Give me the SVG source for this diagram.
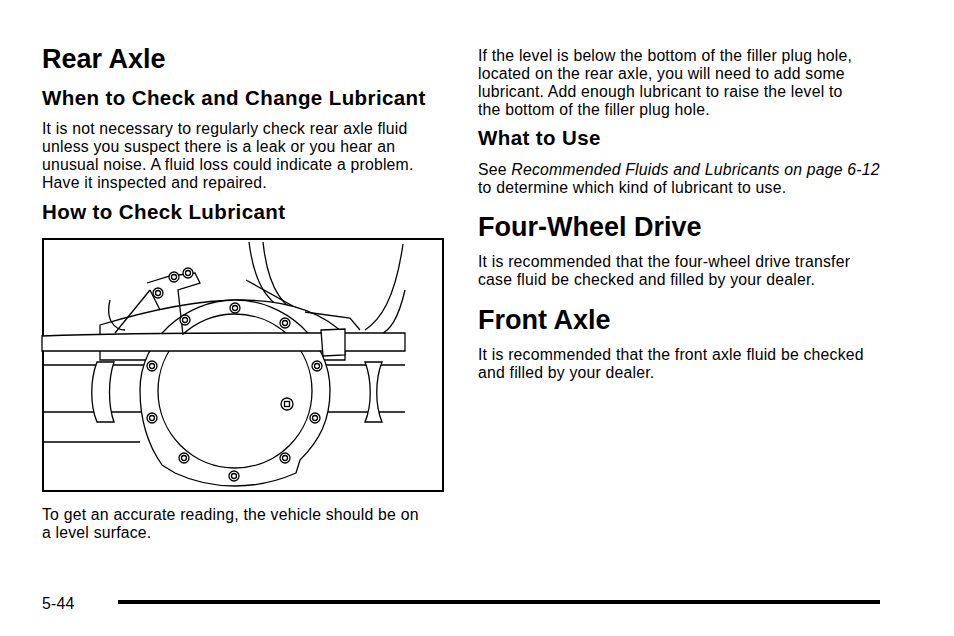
<svg xmlns="http://www.w3.org/2000/svg" width="954" height="636" viewBox="0 0 954 636">
<style>
text{font-family:"Liberation Sans",Arial,sans-serif;fill:#000}
.h1{font-size:27px;font-weight:bold}
.h2{font-size:20.5px;font-weight:bold;letter-spacing:0.4px}
.b{font-size:15.8px;letter-spacing:0.2px}
.ln{fill:none;stroke:#000;stroke-width:1.3}
.wf{fill:#fff;stroke:#000;stroke-width:1.3}
</style>
<defs>
<g id="bolt"><circle r="5" class="wf"/><circle r="2.5" class="wf"/></g>
</defs>
<rect width="954" height="636" fill="#fff"/>
<g id="left">
<text x="42" y="68" class="h1">Rear Axle</text>
<text x="42" y="105" class="h2">When to Check and Change Lubricant</text>
<text class="b"><tspan x="42" y="134">It is not necessary to regularly check rear axle fluid</tspan><tspan x="42" y="152">unless you suspect there is a leak or you hear an</tspan><tspan x="42" y="170">unusual noise. A fluid loss could indicate a problem.</tspan><tspan x="42" y="188">Have it inspected and repaired.</tspan></text>
<text x="42" y="219" class="h2">How to Check Lubricant</text>
<text class="b"><tspan x="42" y="520">To get an accurate reading, the vehicle should be on</tspan><tspan x="42" y="538">a level surface.</tspan></text>
</g>
<g id="illustration">
<rect x="43" y="239" width="400" height="252" fill="#fff" stroke="#000" stroke-width="2"/>
<path class="ln" d="M249,242 C255,290 270,305 300,320 M263,242 C268,290 285,310 305,315 M403,244 C395,300 380,320 365,330 M405,290 C398,320 390,330 380,335"/>
<path class="ln" d="M246,280 L300,310"/>
<path class="wf" d="M100,325 C150,310 200,300 240,300 C300,300 330,320 345,335 L345,360 L100,360 Z"/>
<path class="ln" d="M42,365 L160,365 M42,412 L160,412 M42,442 L140,442 M405,365 L310,365 M405,412 L310,412"/>
<path class="wf" d="M97,362 C90,380 90,405 97,422 L114,422 C108,405 108,380 114,362 Z M365,362 C372,380 372,405 365,422 L382,422 C375,405 375,380 382,362 Z"/>
<path class="wf" d="M140,390 C140,340 185,300 235,300 C285,300 330,340 330,390 C330,420 320,440 300,460 L296,473 C280,480 260,486 235,486 C210,486 190,480 175,473 L162,465 C148,445 140,420 140,390 Z"/>
<circle cx="235" cy="391" r="77" class="wf"/>
<path class="wf" d="M42,336 C120,333 200,333 255,333 L405,333 L405,351 L42,351 Z"/>
<path class="wf" d="M321,330 L345,329 L345,355 L323,356 Z"/>
<path class="ln" d="M147,283 L170,276 L195,273 L200,283 L178,290 L183,335 M160,310 L150,290 M110,300 C105,320 115,330 125,330 M150,290 L115,333 M305,312 L350,318 L360,330"/>
<use href="#bolt" x="174" y="277"/><use href="#bolt" x="188" y="273"/><use href="#bolt" x="158" y="293"/>
<use href="#bolt" x="235" y="308"/><use href="#bolt" x="285" y="323"/><use href="#bolt" x="185" y="320"/>
<use href="#bolt" x="152" y="366"/><use href="#bolt" x="317" y="366"/><use href="#bolt" x="152" y="418"/>
<use href="#bolt" x="315" y="418"/><use href="#bolt" x="184" y="458"/><use href="#bolt" x="285" y="458"/>
<use href="#bolt" x="234" y="476"/>
<circle cx="287" cy="404" r="6" class="wf"/><rect x="284.5" y="401.5" width="5" height="5" class="wf"/>
</g>
<g id="right">
<text class="b"><tspan x="478" y="61">If the level is below the bottom of the filler plug hole,</tspan><tspan x="478" y="79">located on the rear axle, you will need to add some</tspan><tspan x="478" y="97">lubricant. Add enough lubricant to raise the level to</tspan><tspan x="478" y="115">the bottom of the filler plug hole.</tspan></text>
<text x="478" y="145" class="h2">What to Use</text>
<text class="b"><tspan x="478" y="175">See <tspan font-style="italic">Recommended Fluids and Lubricants on page 6-12</tspan></tspan><tspan x="478" y="193">to determine which kind of lubricant to use.</tspan></text>
<text x="478" y="236" class="h1">Four-Wheel Drive</text>
<text class="b"><tspan x="478" y="267">It is recommended that the four-wheel drive transfer</tspan><tspan x="478" y="285">case fluid be checked and filled by your dealer.</tspan></text>
<text x="478" y="329" class="h1">Front Axle</text>
<text class="b"><tspan x="478" y="360">It is recommended that the front axle fluid be checked</tspan><tspan x="478" y="378">and filled by your dealer.</tspan></text>
</g>
<g id="footer">
<text x="42" y="609" class="b">5-44</text>
<rect x="118" y="600" width="762" height="4" fill="#000"/>
</g>
</svg>
